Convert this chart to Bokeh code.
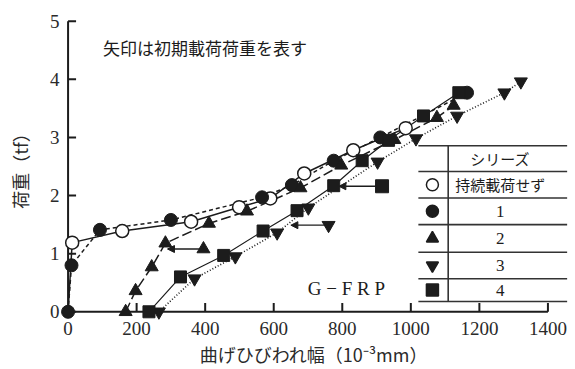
from bokeh.plotting import figure
from bokeh.models import Range1d, FixedTicker, Arrow, NormalHead, Label, ColumnDataSource
from bokeh.core.properties import value
from bokeh.embed import file_html
from bokeh.resources import INLINE

# Crack width (10^-3 mm) vs load (tf) for each series
none_x = [0, 12, 158, 359, 499, 590, 689, 832, 985]
none_y = [0, 1.19, 1.39, 1.55, 1.80, 1.95, 2.38, 2.78, 3.16]

s1_x = [0, 10, 93, 300, 566, 653, 775, 911, 1164]
s1_y = [0, 0.80, 1.41, 1.58, 1.97, 2.18, 2.60, 3.00, 3.77]

s2_x = [168, 197, 244, 284, 411, 522, 678, 797, 952, 1076, 1125]
s2_y = [0, 0.36, 0.77, 1.18, 1.52, 1.73, 2.13, 2.52, 2.96, 3.34, 3.55]

s3_x = [265, 369, 488, 610, 701, 903, 1015, 1135, 1273, 1321]
s3_y = [0, 0.57, 0.95, 1.36, 1.79, 2.58, 2.98, 3.37, 3.77, 3.96]

s4_x = [236, 328, 454, 569, 668, 775, 858, 935, 1037, 1140]
s4_y = [0, 0.60, 0.97, 1.39, 1.74, 2.17, 2.60, 2.95, 3.37, 3.77]

# Initial sustained load (arrow markers) for series 2, 3, 4
init_marker = ["triangle", "inverted_triangle", "square"]
init_x = [395, 760, 916]
init_to_x = [290, 650, 790]
init_y = [1.08, 1.49, 2.16]

x_ticks = [0, 200, 400, 600, 800, 1000, 1200, 1400]
y_ticks = [0, 1, 2, 3, 4, 5]

table_header = "シリーズ"
table_names = ["持続載荷せず", "1", "2", "3", "4"]
table_markers = ["circle", "circle", "triangle", "inverted_triangle", "square"]
table_fills = ["white", "#1c1c1c", "#1c1c1c", "#1c1c1c", "#1c1c1c"]

INK = "#1c1c1c"
SERIF = "Liberation Serif"
JP = "Noto Sans CJK JP"

X0, X1, Y0, Y1 = -25, 1460, -0.15, 5.15
p = figure(width=575, height=369, output_backend="svg", toolbar_location=None,
           x_range=Range1d(X0, X1), y_range=Range1d(Y0, Y1),
           min_border_left=59, min_border_right=7, min_border_top=12, min_border_bottom=45)
p.outline_line_color = None
p.grid.visible = False
p.background_fill_color = "white"

# built-in axes supply the tick labels; lines and ticks are drawn at the origin below
for ax, ticks in ((p.xaxis, x_ticks), (p.yaxis, y_ticks)):
    ax.ticker = FixedTicker(ticks=ticks)
    ax.axis_line_color = None
    ax.major_tick_line_color = None
    ax.minor_tick_line_color = None
    ax.major_tick_in = 0
    ax.major_tick_out = 0
    ax.major_label_text_font = SERIF
    ax.major_label_text_font_size = "19px"
    ax.major_label_text_color = "#2a2a2a"
    ax.axis_label_text_font = JP
    ax.axis_label_text_font_style = "normal"
    ax.axis_label_text_font_size = "18px"
    ax.axis_label_text_color = "#2a2a2a"

p.xaxis.axis_label = "曲げひびわれ幅（10⁻³mm）"
p.yaxis.axis_label = "荷重（tf）"
p.xaxis.major_label_standoff = 1
p.yaxis.major_label_standoff = 0
p.xaxis.axis_label_standoff = 3
p.yaxis.axis_label_standoff = 14

# axis lines through the origin with inward ticks
px_x = (X1 - X0) / 509.4   # data units per pixel, x
px_y = (Y1 - Y0) / 312.8   # data units per pixel, y
p.segment(x0=[0, x_ticks[0]], y0=[y_ticks[0], 0], x1=[0, x_ticks[-1]], y1=[y_ticks[-1], 0],
          line_color=INK, line_width=2)
p.segment(x0=[0] * len(y_ticks), y0=y_ticks, x1=[8 * px_x] * len(y_ticks), y1=y_ticks,
          line_color=INK, line_width=2)
p.segment(x0=x_ticks[1:], y0=[0] * (len(x_ticks) - 1), x1=x_ticks[1:], y1=[9 * px_y] * (len(x_ticks) - 1),
          line_color=INK, line_width=2)

# curves
p.line(none_x, none_y, line_color=INK, line_width=1.5)
p.line(s1_x, s1_y, line_color=INK, line_width=1.5, line_dash="4 3")
p.line(s2_x, s2_y, line_color=INK, line_width=1.5, line_dash="10 4")
p.line(s3_x, s3_y, line_color=INK, line_width=1.6, line_dash="1 2")
p.line(s4_x, s4_y, line_color=INK, line_width=1.2)

# initial-load arrows
arr = ColumnDataSource(dict(x0=init_x, x1=init_to_x, y=init_y))
p.add_layout(Arrow(end=NormalHead(size=7, fill_color=INK, line_color=INK),
                   x_start="x0", y_start="y", x_end="x1", y_end="y",
                   line_color=INK, line_width=1.3, source=arr))
p.scatter(init_x, init_y, marker=init_marker, size=13, fill_color=INK, line_color=INK)

# markers
p.scatter(none_x[1:], none_y[1:], marker="circle", size=13, fill_color="white", line_color=INK, line_width=1.5)
p.scatter(s1_x, s1_y, marker="circle", size=13, fill_color=INK, line_color=INK)
p.scatter(s2_x, s2_y, marker="triangle", size=13, fill_color=INK, line_color=INK)
p.scatter(s3_x, s3_y, marker="inverted_triangle", size=13, fill_color=INK, line_color=INK)
p.scatter(s4_x, s4_y, marker="square", size=12, fill_color=INK, line_color=INK)

# legend table
rule_y = [2.856, 2.415, 1.958, 1.500, 1.025, 0.568, 0.178]
tab_x0, tab_x1, tab_div, sym_x, txt_x = 1022, 1456, 1109, 1063, 1261
p.segment(x0=[tab_x0] * len(rule_y), y0=rule_y, x1=[tab_x1] * len(rule_y), y1=rule_y,
          line_color="#333333", line_width=1.6)
p.segment(x0=[tab_div], y0=[rule_y[0]], x1=[tab_div], y1=[rule_y[-1]], line_color="#333333", line_width=1.6)
row_y = [(a + b) / 2 for a, b in zip(rule_y[:-1], rule_y[1:])]
p.text([txt_x], [row_y[0]], text=[table_header], text_font=value(JP), text_font_size="15px",
       text_align="center", text_baseline="middle", text_color=INK)
p.text([txt_x], [row_y[1]], text=[table_names[0]], text_font=value(JP), text_font_size="15px",
       text_align="center", text_baseline="middle", text_color=INK)
p.text([txt_x] * 4, row_y[2:], text=table_names[1:], text_font=value(SERIF), text_font_size="17px",
       text_align="center", text_baseline="middle", text_color=INK)
p.scatter([sym_x] * 5, row_y[1:], marker=table_markers, size=12, fill_color=table_fills,
          line_color=INK, line_width=1.5)

p.add_layout(Label(x=102, y=4.55, text="矢印は初期載荷荷重を表す", text_font=JP, text_font_size="17px",
                   text_baseline="middle", text_color=INK))
p.add_layout(Label(x=812, y=0.40, text="G − F R P", text_font=SERIF, text_font_size="19px",
                   text_align="center", text_baseline="middle", text_color=INK))

open("out.html", "w").write(file_html(p, INLINE))
